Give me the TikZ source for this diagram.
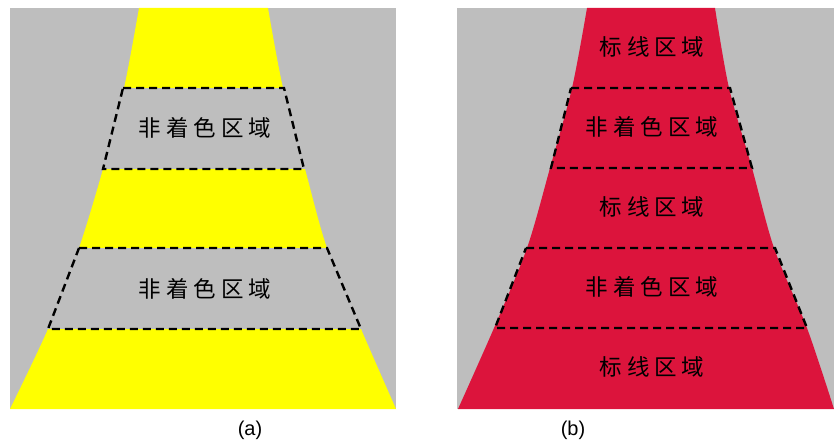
\documentclass[tikz,border=0pt]{standalone}
\usepackage{fontspec}
\setmainfont{Liberation Sans}
\newfontfamily\cjk{Noto Sans CJK SC}
\definecolor{bggrey}{RGB}{190,190,190}
\definecolor{roadyellow}{RGB}{255,255,0}
\definecolor{redmark}{RGB}{220,20,60}
\begin{document}
\begin{tikzpicture}[x=1pt,y=-1pt,
  zonetext/.style={font=\cjk\fontsize{22.5}{22.5}\selectfont, inner sep=0pt},
  captext/.style={font=\fontsize{20}{20}\selectfont, inner sep=0pt},
  dashline/.style={draw=black, line width=2.4pt, dash pattern=on 8pt off 5pt}]
\useasboundingbox (0,0) rectangle (834,443);
% ---------- panel (a)
\fill[fill=bggrey] (10,8) rectangle (396,409);
\fill[fill=roadyellow] plot[smooth] coordinates {(139,8) (124,88) (103,169) (79,248) (48,329) (10,409)}
  -- plot[smooth] coordinates {(396,409) (361,329) (327,248) (305,169) (283,88) (268,8)} -- cycle;
\fill[fill=bggrey] (10,88) rectangle (396,169);
\fill[fill=bggrey] (10,248) rectangle (396,329);
\coordinate (a1) at (123,88); \coordinate (a2) at (284,88);
\coordinate (a3) at (304,169); \coordinate (a4) at (103,169);
\coordinate (a5) at (79,248); \coordinate (a6) at (327,248);
\coordinate (a7) at (361,329); \coordinate (a8) at (48,329);
\draw[dashline] (a1) -- (a2) -- (a3) -- (a4) -- cycle;
\draw[dashline] (a5) -- (a6) -- (a7) -- (a8) -- cycle;
\node[zonetext] (ta1) at (205,128) {非\kern5pt着\kern5pt色\kern5pt区\kern5pt域};
\node[zonetext] (ta2) at (205,289) {非\kern5pt着\kern5pt色\kern5pt区\kern5pt域};
\node[captext] (la) at (250,430) {(a)};
% ---------- panel (b)
\fill[fill=bggrey] (457,8) rectangle (834,409);
\fill[fill=redmark] plot[smooth] coordinates {(587,8) (572,88) (550,168) (527,248) (494,328) (458,409)}
  -- plot[smooth] coordinates {(834,409) (807,328) (774,248) (752,168) (729,88) (715,8)} -- cycle;
\coordinate (b1) at (571,88); \coordinate (b2) at (730,88);
\coordinate (b3) at (752,168); \coordinate (b4) at (551,168);
\coordinate (b5) at (526,248); \coordinate (b6) at (775,248);
\coordinate (b7) at (807,328); \coordinate (b8) at (495,328);
\draw[dashline] (b1) -- (b2) -- (b3) -- (b4) -- cycle;
\draw[dashline] (b5) -- (b6) -- (b7) -- (b8) -- cycle;
\node[zonetext] (tb1) at (652,47) {标\kern5pt线\kern5pt区\kern5pt域};
\node[zonetext] (tb2) at (652,127) {非\kern5pt着\kern5pt色\kern5pt区\kern5pt域};
\node[zonetext] (tb3) at (652,207) {标\kern5pt线\kern5pt区\kern5pt域};
\node[zonetext] (tb4) at (652,287) {非\kern5pt着\kern5pt色\kern5pt区\kern5pt域};
\node[zonetext] (tb5) at (652,367) {标\kern5pt线\kern5pt区\kern5pt域};
\node[captext] (lb) at (573,430) {(b)};
\end{tikzpicture}
\end{document}
